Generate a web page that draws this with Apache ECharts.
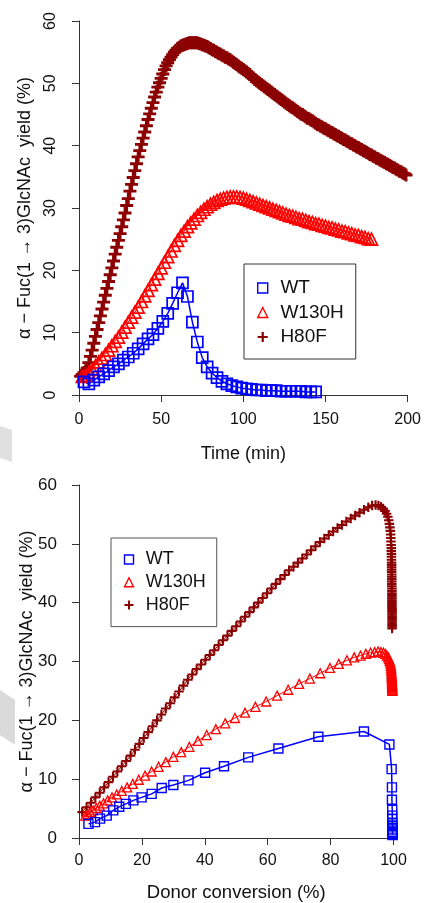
<!DOCTYPE html>
<html><head><meta charset="utf-8">
<script src="https://cdn.jsdelivr.net/npm/echarts@6/dist/echarts.min.js"></script>
<style>html,body{margin:0;padding:0;background:#fff;}#c{width:424px;height:903px;}</style>
</head><body><div id="c"></div>
<script>
// ---- Top panel: yield vs time ----
const xTicksTop = [0, 50, 100, 150, 200];
const yTicks = [0, 10, 20, 30, 40, 50, 60];
const seriesNames = ['WT', 'W130H', 'H80F'];

const wtTime = [3,6,9,12,15,18,21,24,27,30,33,36,39,42,45,48,51,54,57,60,63,66,69,72,75,78,81,84,87,90,93,96,99,102,105,108,111,114,117,120,123,126,129,132,135,138,141,144];
const wtYield = [2.1,1.8,2.4,2.9,3.4,3.9,4.5,5.0,5.6,6.1,6.7,7.4,8.2,9.0,9.7,10.7,11.8,13.1,14.7,16.4,18.0,15.8,11.7,8.5,6.0,4.5,3.5,2.8,2.2,1.8,1.5,1.3,1.1,1.0,0.9,0.8,0.8,0.7,0.7,0.7,0.6,0.6,0.6,0.6,0.6,0.5,0.5,0.5];

const w130hTime = [2,4,6,8,10,12,14,16,18,20,22,24,26,28,30,32,34,36,38,40,42,44,46,48,50,52,54,56,58,60,62,64,66,68,70,72,74,76,78,80,82,84,86,88,90,92,94,96,98,100,102,104,106,108,110,112,114,116,118,120,122,124,126,128,130,132,134,136,138,140,142,144,146,148,150,152,154,156,158,160,162,164,166,168,170,172,174,176,178];
const w130hYield = [3.0,3.2,3.6,4.1,4.7,5.3,5.9,6.5,7.2,7.9,8.6,9.3,10.1,10.9,11.7,12.5,13.3,14.1,15.0,15.9,16.8,17.7,18.6,19.5,20.4,21.3,22.2,23.1,24.0,24.8,25.6,26.3,27.0,27.6,28.2,28.8,29.3,29.8,30.2,30.6,30.9,31.2,31.4,31.6,31.7,31.8,31.8,31.8,31.7,31.6,31.4,31.2,31.0,30.8,30.6,30.4,30.2,30.0,29.8,29.6,29.4,29.2,29.0,28.8,28.7,28.5,28.3,28.2,28.0,27.8,27.7,27.5,27.4,27.2,27.1,26.9,26.8,26.6,26.5,26.3,26.2,26.0,25.9,25.7,25.6,25.4,25.3,25.1,25.0];

const h80fTime = [1,2,3,4,5,6,7,8,9,10,11,12,13,14,15,16,17,18,19,20,21,22,23,24,25,26,27,28,29,30,31,32,33,34,35,36,37,38,39,40,41,42,43,44,45,46,47,48,49,50,51,52,53,54,55,56,57,58,59,60,61,62,63,64,65,66,67,68,69,70,71,72,73,74,75,76,77,78,79,80,81,82,83,84,85,86,87,88,89,90,91,92,93,94,95,96,97,98,99,100,101,102,103,104,105,106,107,108,109,110,111,112,113,114,115,116,117,118,119,120,121,122,123,124,125,126,127,128,129,130,131,132,133,134,135,136,137,138,139,140,141,142,143,144,145,146,147,148,149,150,151,152,153,154,155,156,157,158,159,160,161,162,163,164,165,166,167,168,169,170,171,172,173,174,175,176,177,178,179,180,181,182,183,184,185,186,187,188,189,190,191,192,193,194,195,196,197,198,199];
const h80fYield = [3.0,3.3,3.6,3.9,4.3,5.2,6.2,7.2,8.3,9.4,10.5,11.6,12.7,13.8,14.9,16.0,17.1,18.2,19.3,20.4,21.5,22.6,23.7,24.8,25.9,27.0,28.1,29.2,30.4,31.5,32.7,33.8,34.9,36.0,37.1,38.2,39.2,40.2,41.2,42.2,43.2,44.2,45.1,46.0,46.9,47.8,48.6,49.4,50.1,50.8,51.5,52.2,52.8,53.3,53.8,54.2,54.6,55.0,55.3,55.6,55.8,56.0,56.1,56.2,56.3,56.4,56.5,56.5,56.5,56.5,56.5,56.5,56.4,56.3,56.2,56.1,56.0,55.9,55.7,55.6,55.4,55.3,55.1,55.0,54.8,54.7,54.5,54.4,54.2,54.1,53.9,53.8,53.6,53.4,53.2,53.0,52.8,52.6,52.4,52.2,52.0,51.8,51.6,51.4,51.1,50.9,50.6,50.4,50.2,50.0,49.8,49.6,49.4,49.2,49.0,48.8,48.6,48.4,48.2,48.0,47.8,47.6,47.4,47.2,47.0,46.8,46.6,46.4,46.2,46.1,45.9,45.7,45.5,45.3,45.1,45.0,44.8,44.6,44.4,44.3,44.1,44.0,43.8,43.6,43.4,43.3,43.1,43.0,42.8,42.7,42.5,42.4,42.2,42.1,41.9,41.8,41.6,41.5,41.3,41.2,41.0,40.9,40.7,40.6,40.4,40.3,40.1,40.0,39.8,39.7,39.5,39.4,39.2,39.1,38.9,38.8,38.6,38.5,38.3,38.2,38.0,37.9,37.7,37.6,37.4,37.3,37.1,37.0,36.8,36.7,36.5,36.4,36.2,36.1,35.9,35.8,35.6,35.5,35.3];

// ---- Bottom panel: yield vs donor conversion ----
const xTicksBottom = [0, 20, 40, 60, 80, 100];
const wtConv = [3.0,5.1,6.7,8.8,10.9,12.8,14.9,17.3,19.9,23.1,26.3,30.0,34.8,40.1,46.1,53.8,63.4,76.1,90.6,98.7,99.4,99.5,99.5,99.6,99.6,99.6,99.6,99.7,99.7,99.7,99.7,99.7,99.7,99.7,99.7];
const wtConvYield = [2.4,2.7,3.3,3.8,4.7,5.3,5.8,6.4,6.9,7.5,8.5,9.0,9.8,11.1,12.2,13.7,15.2,17.2,18.1,15.9,11.7,8.6,6.5,4.8,3.8,3.2,2.6,2.0,1.6,1.3,1.0,0.8,0.7,0.6,0.5];

const w130hConv = [2.0,2.8,3.6,4.5,5.5,6.6,7.8,9.1,10.5,12.0,13.6,15.3,17.1,19.0,21.0,23.1,25.3,27.6,30.0,32.5,35.1,37.8,40.6,43.5,46.5,49.6,52.8,56.1,59.5,63.0,66.5,70.0,73.4,76.7,79.8,82.6,85.2,87.5,89.5,91.2,92.7,94.0,95.1,96.0,96.8,97.4,97.9,98.3,98.6,98.8,99.0,99.1,99.2,99.25,99.3,99.35,99.4,99.4,99.45,99.45,99.5,99.5,99.5,99.55,99.55,99.55,99.6,99.6,99.6,99.6,99.65,99.65,99.65,99.65];
const w130hConvYield = [3.8,4.1,4.4,4.7,5.1,5.5,5.9,6.4,6.9,7.4,8.0,8.6,9.2,9.9,10.6,11.3,12.1,12.9,13.8,14.6,15.5,16.5,17.5,18.5,19.5,20.4,21.3,22.3,23.2,24.2,25.2,26.2,27.1,28.0,28.9,29.6,30.2,30.7,31.0,31.3,31.5,31.6,31.7,31.6,31.5,31.3,31.0,30.7,30.4,30.1,29.8,29.5,29.2,28.9,28.6,28.3,28.0,27.8,27.6,27.4,27.2,27.0,26.8,26.6,26.4,26.2,26.0,25.85,25.7,25.55,25.4,25.25,25.1,25.0];

const h80fConv = [1.0,2.4,3.8,5.2,6.6,8.0,9.4,10.8,12.2,13.6,15.0,16.4,17.8,19.2,20.6,22.0,23.4,24.8,26.2,27.6,29.0,30.4,31.8,33.2,34.6,36.0,37.4,38.8,40.2,41.6,43.0,44.4,45.8,47.2,48.6,50.0,51.4,52.8,54.2,55.6,57.0,58.4,59.8,61.2,62.6,64.0,65.4,66.8,68.2,69.6,71.0,72.4,73.8,75.2,76.6,78.0,79.4,80.8,82.2,83.6,85.0,86.4,87.8,89.2,90.6,92.0,93.2,94.3,95.2,96.0,96.7,97.3,97.8,98.2,98.5,98.7,98.85,99.0,99.1,99.15,99.2,99.25,99.3,99.3,99.35,99.35,99.35,99.4,99.4,99.4,99.4,99.4,99.45,99.45,99.45,99.45,99.45,99.45,99.5,99.5,99.5,99.5,99.5,99.5,99.5,99.5,99.5,99.5,99.5,99.55,99.55,99.55,99.55,99.55,99.55,99.55,99.55,99.55,99.55,99.55,99.55,99.55];
const h80fConvYield = [4.4,5.2,6.0,6.9,7.7,8.6,9.5,10.4,11.3,12.2,13.1,14.0,15.0,16.0,17.0,18.0,19.0,20.0,21.0,22.0,22.9,23.9,24.9,25.9,26.9,27.8,28.7,29.5,30.3,31.1,31.9,32.8,33.6,34.4,35.2,36.0,36.8,37.6,38.4,39.2,40.0,40.8,41.6,42.4,43.2,44.0,44.7,45.5,46.1,46.8,47.5,48.2,48.9,49.6,50.3,50.9,51.5,52.1,52.7,53.2,53.8,54.3,54.8,55.3,55.8,56.2,56.5,56.6,56.5,56.3,56.0,55.6,55.1,54.6,54.0,53.4,52.8,52.2,51.6,51.0,50.4,49.8,49.3,48.8,48.3,47.8,47.3,46.8,46.4,46.0,45.6,45.2,44.8,44.4,44.0,43.6,43.2,42.8,42.4,42.0,41.6,41.3,41.0,40.7,40.4,40.1,39.8,39.5,39.2,38.9,38.6,38.3,38.0,37.7,37.4,37.1,36.8,36.5,36.2,35.9,35.6];

const FONT = '"Liberation Sans", Arial, Helvetica, sans-serif';
const BLUE = '#0000ff', RED = '#ff0000', DRED = '#8b0000';
const PLUS = 'path://M3.9,0H6.1V3.9H10V6.1H6.1V10H3.9V6.1H0V3.9H3.9Z';
const yName = '\u03b1 \u2212 Fuc(1 \u2192 3)GlcNAc  yield (%)';

function pairs(xs, ys) { return xs.map((x, i) => [x, ys[i]]); }

const axisLine = { show: true, onZero: false, lineStyle: { color: '#333', width: 1 } };
const axisTick = { show: true, length: 7, inside: false, lineStyle: { color: '#333', width: 1 } };

function styleFor(name, size, top) {
  if (name === 'WT') return { symbol: 'rect', symbolSize: size,
    itemStyle: { color: 'rgba(0,0,0,0)', borderColor: BLUE, borderWidth: top ? 1.7 : 1.4 },
    lineStyle: { color: BLUE, width: 1.5 } };
  if (name === 'W130H') return { symbol: 'triangle', symbolSize: size,
    itemStyle: { color: 'rgba(0,0,0,0)', borderColor: RED, borderWidth: top ? 1.7 : 1.3 },
    lineStyle: { color: RED, width: 1 } };
  return { symbol: PLUS, symbolSize: size,
    itemStyle: { color: DRED, borderWidth: 0 },
    lineStyle: { color: DRED, width: 1 } };
}

function mkSeries(name, data, gi, size, top) {
  return Object.assign({ name, type: 'line', xAxisIndex: gi, yAxisIndex: gi, data,
    showSymbol: true, symbolKeepAspect: true, animation: false, silent: true, z: 3 }, styleFor(name, size, top));
}

function legendData() {
  return [
    { name: 'WT', icon: 'rect', itemStyle: { color: 'rgba(0,0,0,0)', borderColor: BLUE, borderWidth: 1.4 } },
    { name: 'W130H', icon: 'triangle', itemStyle: { color: 'rgba(0,0,0,0)', borderColor: RED, borderWidth: 1.4 } },
    { name: 'H80F', icon: PLUS, itemStyle: { color: DRED, borderWidth: 0 } }
  ];
}

const option = {
  backgroundColor: '#fff',
  animation: false,
  textStyle: { fontFamily: FONT },
  grid: [
    { left: 79, top: 21, width: 330, height: 374 },
    { left: 79, top: 485, width: 314.5, height: 354.3 }
  ],
  xAxis: [
    { type: 'value', gridIndex: 0, min: xTicksTop[0], max: xTicksTop[xTicksTop.length - 1], interval: 50,
      axisLine, axisTick, splitLine: { show: false },
      axisLabel: { fontSize: 16, color: '#111', margin: 17, fontFamily: FONT },
      name: 'Time (min)', nameLocation: 'middle', nameGap: 50, nameMoveOverlap: false,
      nameTextStyle: { fontSize: 18, color: '#111', fontFamily: FONT } },
    { type: 'value', gridIndex: 1, min: xTicksBottom[0], max: xTicksBottom[xTicksBottom.length - 1], interval: 20,
      axisLine, axisTick, splitLine: { show: false },
      axisLabel: { fontSize: 16, color: '#111', margin: 15, fontFamily: FONT },
      name: 'Donor conversion (%)', nameLocation: 'middle', nameGap: 45, nameMoveOverlap: false,
      nameTextStyle: { fontSize: 18.5, color: '#111', fontFamily: FONT } }
  ],
  yAxis: [
    { type: 'value', gridIndex: 0, min: yTicks[0], max: yTicks[yTicks.length - 1], interval: 10,
      axisLine, axisTick, splitLine: { show: false },
      axisLabel: { fontSize: 16, color: '#111', margin: 20, rotate: 90, fontFamily: FONT },
      name: yName, nameLocation: 'middle', nameGap: 45, nameRotate: 90, nameMoveOverlap: false,
      nameTextStyle: { fontSize: 18, color: '#111', fontFamily: FONT } },
    { type: 'value', gridIndex: 1, min: yTicks[0], max: yTicks[yTicks.length - 1], interval: 10,
      axisLine, axisTick, splitLine: { show: false },
      axisLabel: { fontSize: 17, color: '#111', margin: 22, fontFamily: FONT },
      name: yName, nameLocation: 'middle', nameGap: 43, nameRotate: 90, nameMoveOverlap: false,
      nameTextStyle: { fontSize: 18, color: '#111', fontFamily: FONT } }
  ],
  legend: [
    { orient: 'vertical', left: 244, top: 264, padding: [13, 12, 11, 13],
      itemWidth: 10, itemHeight: 10, itemGap: 2.5, borderColor: '#333', borderWidth: 1,
      selectedMode: false,
      textStyle: { fontSize: 19, lineHeight: 22, color: '#111', fontFamily: FONT, padding: [0, 0, 0, 7.7] },
      data: legendData() },
    { orient: 'vertical', left: 111, top: 538, padding: [11.5, 11, 11.5, 12.8],
      itemWidth: 9, itemHeight: 9, itemGap: 2.8, borderColor: '#555', borderWidth: 1,
      selectedMode: false,
      textStyle: { fontSize: 18, lineHeight: 20, color: '#111', fontFamily: FONT, padding: [0, 0, 0, 7.2] },
      data: legendData() }
  ],
  graphic: [
    { type: 'polygon', shape: { points: [[0, 426], [12, 430], [12, 462], [0, 458]] }, style: { fill: '#e0e0e0' }, z: 0 },
    { type: 'polygon', shape: { points: [[0, 690], [15, 700], [15, 745], [0, 735]] }, style: { fill: '#dadada' }, z: 0 }
  ],
  series: [
    mkSeries('H80F', pairs(h80fTime, h80fYield), 0, 13, true),
    mkSeries('W130H', pairs(w130hTime, w130hYield), 0, 12, true),
    mkSeries('WT', pairs(wtTime, wtYield), 0, 11, true),
    mkSeries('H80F', pairs(h80fConv, h80fConvYield), 1, 9.5, false),
    mkSeries('W130H', pairs(w130hConv, w130hConvYield), 1, 9, false),
    mkSeries('WT', pairs(wtConv, wtConvYield), 1, 9, false)
  ]
};

const chart = echarts.init(document.getElementById('c'), null, { renderer: 'canvas' });
chart.setOption(option);
</script>
</body></html>
